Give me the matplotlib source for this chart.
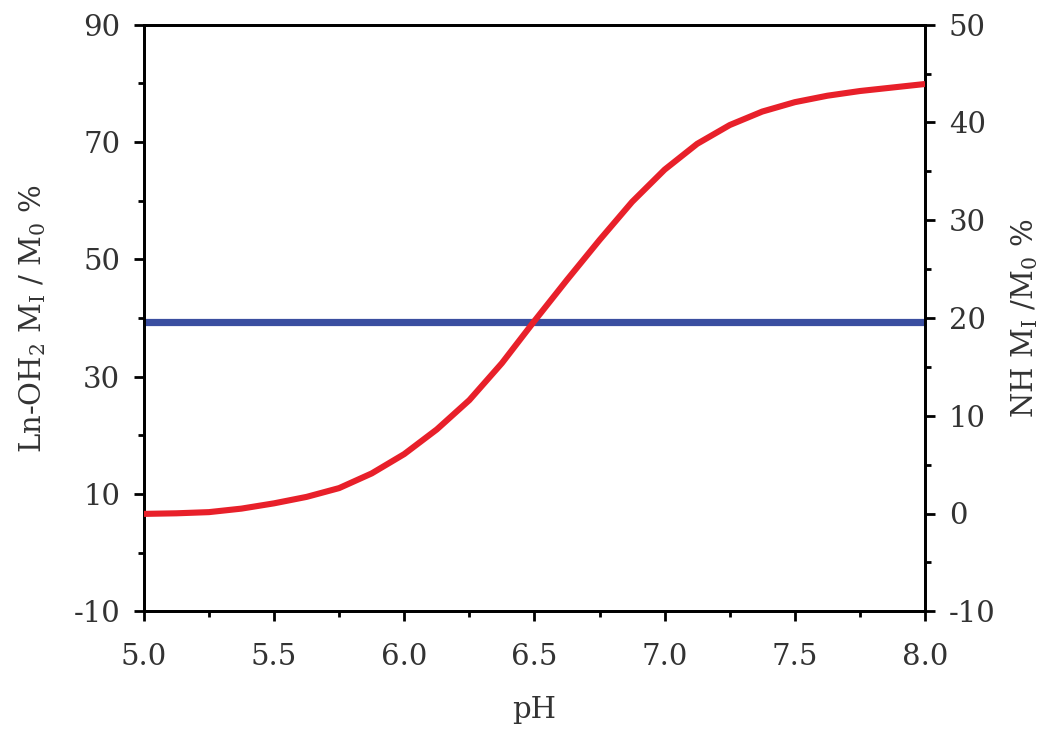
import numpy as np
import matplotlib
matplotlib.use("Agg")
import matplotlib.pyplot as plt
from matplotlib.ticker import MultipleLocator

plt.rcParams["font.family"] = "DejaVu Serif"
plt.rcParams["mathtext.fontset"] = "dejavuserif"
plt.rcParams["axes.unicode_minus"] = False

# Ln-OH2 curve (left axis)
ph = [5.0, 5.125, 5.25, 5.375, 5.5, 5.625, 5.75, 5.875, 6.0, 6.125, 6.25,
      6.375, 6.5, 6.625, 6.75, 6.875, 7.0, 7.125, 7.25, 7.375, 7.5, 7.625,
      7.75, 7.875, 8.0]
ln_oh2 = [6.6, 6.7, 6.9, 7.5, 8.4, 9.5, 11.0, 13.5, 16.8, 21.0, 26.0,
          32.3, 39.5, 46.5, 53.3, 59.8, 65.3, 69.7, 72.9, 75.2, 76.8, 77.9,
          78.7, 79.3, 79.9]

# NH curve (right axis), flat
ph_nh = [5.0, 8.0]
nh = [19.6, 19.6]

fig = plt.figure(figsize=(10.5, 7.5), dpi=100)
ax = fig.add_axes([0.137, 0.185, 0.744, 0.782])
ax2 = ax.twinx()

ax2.plot(ph_nh, nh, color="#3A4EA0", lw=5.2, solid_capstyle="butt")
ax.plot(ph, ln_oh2, color="#E8202A", lw=4.4, solid_capstyle="butt",
        solid_joinstyle="round", zorder=5)
ax.set_zorder(ax2.get_zorder() + 1)
ax.patch.set_visible(False)

ax.set_xlim(5.0, 8.0)
ax.set_ylim(-10, 90)
ax2.set_ylim(-10, 50)

ax.set_xticks(np.arange(5.0, 8.01, 0.5))
ax.set_xticklabels([f"{v:.1f}" for v in np.arange(5.0, 8.01, 0.5)])
ax.xaxis.set_minor_locator(MultipleLocator(0.25))
ax.set_yticks(np.arange(-10, 91, 20))
ax.yaxis.set_minor_locator(MultipleLocator(10))
ax2.set_yticks(np.arange(-10, 51, 10))
ax2.yaxis.set_minor_locator(MultipleLocator(5))

txt = "#333333"
for a in (ax, ax2):
    for s in a.spines.values():
        s.set_linewidth(2.0)
    a.tick_params(which="major", length=7, width=2.0, labelsize=21,
                  labelcolor=txt, pad=10)
    a.tick_params(which="minor", length=4.5, width=2.0)
ax.tick_params(axis="x", which="major", pad=16)

ax.set_xlabel("pH", fontsize=21, color=txt, labelpad=18)
ax.set_ylabel(r"Ln-OH$_2$ M$_\mathrm{I}$ / M$_0$ %", fontsize=21,
              color=txt, labelpad=18)
ax2.set_ylabel(r"NH M$_\mathrm{I}$ /M$_0$ %", fontsize=21, color=txt,
               rotation=90, labelpad=10)

fig.savefig("out.png", dpi=100)
